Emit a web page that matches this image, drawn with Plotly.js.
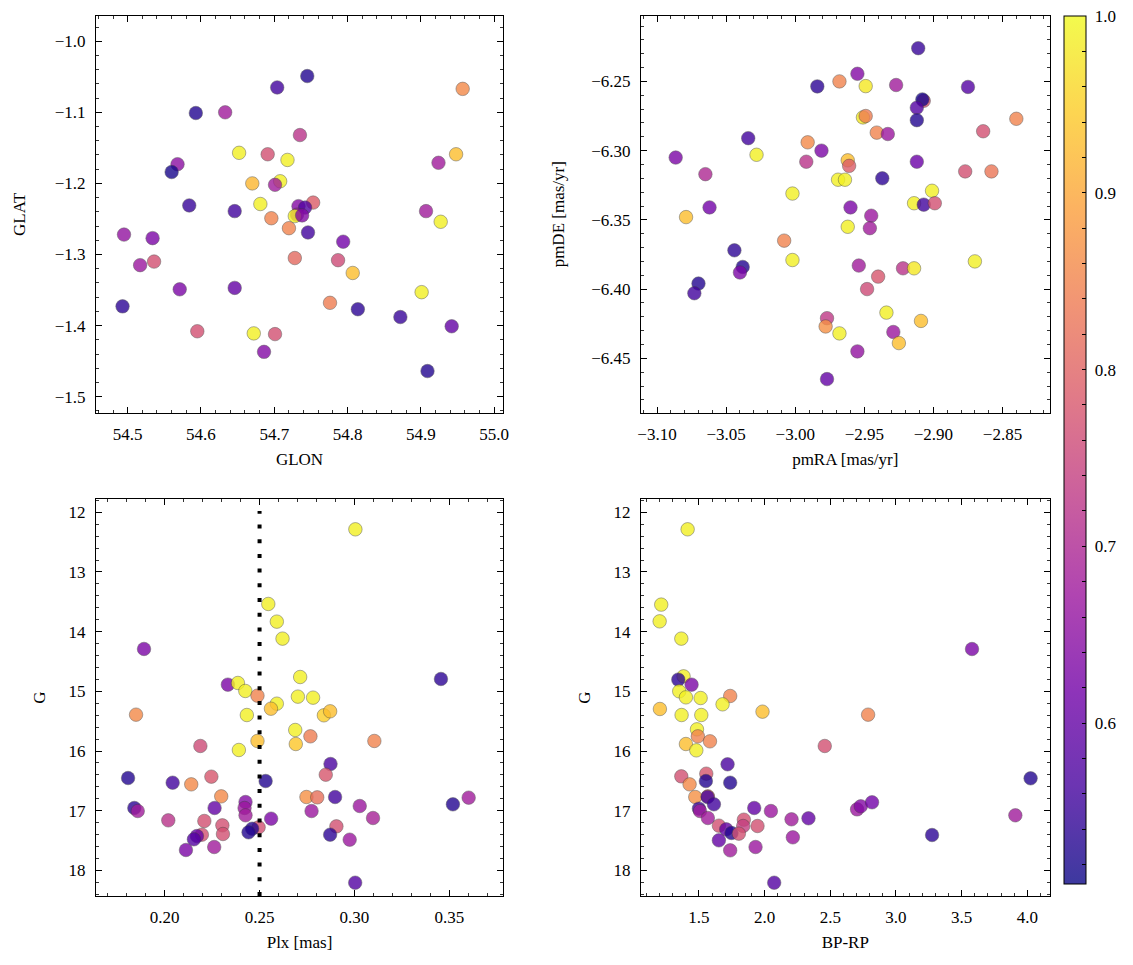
<!DOCTYPE html>
<html><head><meta charset="utf-8">
<script src="https://cdn.plot.ly/plotly-3.0.1.min.js"></script>
<style>html,body{margin:0;padding:0;background:#fff}</style>
</head><body><div id="chart" style="width:1133px;height:965px"></div>
<script>
// ---- Panel 1: position (GLON, GLAT) ----
const glon = [54.745,54.704,54.957,54.593,54.633,54.735,54.652,54.691,54.718,54.948,54.568,54.560,54.924,54.670,54.708,54.701,54.753,54.681,54.584,54.646,54.733,54.742,54.731,54.728,54.738,54.696,54.907,54.927,54.720,54.746,54.495,54.534,54.794,54.517,54.536,54.728,54.787,54.807,54.571,54.646,54.901,54.493,54.776,54.814,54.872,54.942,54.595,54.672,54.701,54.686,54.909];
const glat = [-1.049,-1.065,-1.067,-1.101,-1.100,-1.132,-1.157,-1.159,-1.167,-1.159,-1.173,-1.184,-1.171,-1.200,-1.197,-1.202,-1.227,-1.229,-1.231,-1.239,-1.232,-1.234,-1.244,-1.246,-1.245,-1.249,-1.239,-1.254,-1.263,-1.269,-1.272,-1.277,-1.282,-1.315,-1.310,-1.305,-1.308,-1.326,-1.349,-1.347,-1.353,-1.373,-1.368,-1.377,-1.388,-1.401,-1.408,-1.411,-1.412,-1.437,-1.464];
const probPos = [0.53,0.56,0.86,0.53,0.68,0.72,0.99,0.77,0.99,0.93,0.65,0.52,0.68,0.92,0.99,0.68,0.79,0.99,0.55,0.56,0.64,0.58,0.66,0.99,0.64,0.85,0.68,0.99,0.85,0.56,0.66,0.63,0.62,0.67,0.77,0.81,0.76,0.93,0.63,0.60,0.99,0.54,0.84,0.54,0.55,0.60,0.77,0.99,0.77,0.64,0.53];

// ---- Panel 2: proper motion (pmRA, pmDE) ----
const pmra = [-2.911,-2.955,-2.968,-2.984,-2.949,-2.927,-2.875,-2.907,-2.908,-2.912,-2.912,-2.951,-2.949,-2.840,-2.941,-2.933,-2.864,-3.034,-2.991,-2.981,-3.0865,-3.028,-2.992,-2.962,-2.961,-2.912,-2.877,-2.858,-3.065,-2.937,-2.969,-2.964,-3.002,-2.901,-2.914,-2.907,-2.899,-3.062,-2.960,-3.079,-2.945,-2.946,-2.962,-3.008,-3.044,-3.002,-2.870,-3.038,-3.040,-2.954,-2.922,-2.914,-2.940,-3.070,-3.073,-2.948,-2.934,-2.977,-2.978,-2.909,-2.929,-2.968,-2.925,-2.955,-2.977];
const pmde = [-6.226,-6.2445,-6.250,-6.2536,-6.2534,-6.2526,-6.254,-6.264,-6.263,-6.269,-6.278,-6.276,-6.275,-6.277,-6.287,-6.288,-6.286,-6.291,-6.294,-6.300,-6.305,-6.303,-6.308,-6.307,-6.311,-6.308,-6.315,-6.315,-6.317,-6.320,-6.321,-6.321,-6.331,-6.329,-6.338,-6.339,-6.338,-6.341,-6.341,-6.348,-6.347,-6.356,-6.355,-6.365,-6.372,-6.379,-6.380,-6.384,-6.388,-6.383,-6.385,-6.385,-6.391,-6.396,-6.403,-6.400,-6.417,-6.421,-6.427,-6.423,-6.431,-6.432,-6.439,-6.445,-6.465];
const probPm = [0.55,0.64,0.85,0.54,0.98,0.68,0.58,0.77,0.52,0.58,0.53,0.98,0.84,0.85,0.85,0.67,0.77,0.56,0.86,0.63,0.63,0.99,0.72,0.93,0.79,0.61,0.77,0.83,0.70,0.54,0.99,0.99,0.99,0.99,0.99,0.56,0.77,0.62,0.63,0.93,0.67,0.68,0.99,0.85,0.54,0.99,0.99,0.53,0.63,0.68,0.72,0.98,0.78,0.53,0.56,0.76,0.99,0.73,0.87,0.93,0.67,0.99,0.93,0.66,0.60];

// ---- Panel 3: parallax vs G ----
const plx = [0.3005,0.2546,0.2591,0.2621,0.1891,0.3456,0.2714,0.2333,0.2386,0.2425,0.2489,0.2702,0.2782,0.2591,0.2560,0.1849,0.2433,0.2839,0.2872,0.2688,0.2768,0.3105,0.2489,0.2691,0.2188,0.2391,0.2874,0.2849,0.1807,0.2246,0.2042,0.2532,0.2140,0.2298,0.2747,0.2804,0.2898,0.2426,0.3602,0.3519,0.2263,0.2421,0.3028,0.1840,0.1858,0.2774,0.2426,0.2019,0.3098,0.2561,0.2209,0.2304,0.2495,0.2905,0.2461,0.2442,0.2307,0.2196,0.2170,0.2154,0.2872,0.2975,0.2261,0.2112,0.3004];
const gPlx = [12.285,13.536,13.832,14.117,14.290,14.793,14.760,14.888,14.860,14.994,15.073,15.089,15.106,15.207,15.291,15.391,15.397,15.402,15.335,15.648,15.754,15.832,15.832,15.883,15.916,15.983,16.218,16.397,16.453,16.430,16.531,16.503,16.559,16.760,16.771,16.777,16.771,16.855,16.782,16.894,16.955,16.955,16.922,16.955,17.006,17.006,17.078,17.162,17.123,17.134,17.173,17.246,17.279,17.263,17.302,17.363,17.391,17.402,17.425,17.480,17.402,17.486,17.609,17.659,18.207];
const probPlx = [0.99,0.99,0.99,0.99,0.63,0.54,0.99,0.63,0.99,0.99,0.85,0.99,0.99,0.99,0.93,0.86,0.99,0.95,0.93,0.99,0.84,0.85,0.93,0.94,0.76,0.99,0.57,0.78,0.53,0.78,0.56,0.53,0.86,0.86,0.87,0.82,0.56,0.64,0.68,0.53,0.60,0.67,0.67,0.54,0.68,0.67,0.68,0.72,0.69,0.63,0.77,0.77,0.77,0.77,0.53,0.53,0.77,0.77,0.60,0.58,0.54,0.67,0.68,0.63,0.58];
const plxCut = 0.25;

// ---- Panel 4: colour-magnitude (BP-RP vs G) ----
const bprp = [1.414,1.213,1.201,1.366,3.579,1.383,1.343,1.444,1.350,1.401,1.513,1.738,1.680,1.203,1.368,1.518,1.984,2.788,1.485,1.492,1.584,1.401,1.480,2.458,1.718,1.556,1.366,1.553,1.738,4.025,1.429,1.472,1.568,1.566,1.614,1.500,1.508,1.921,2.048,2.704,2.732,2.818,1.568,2.205,2.334,3.909,1.842,1.652,1.708,1.837,1.946,1.748,1.804,3.275,1.652,2.215,1.738,1.931,2.073];
const gCmd = [12.285,13.547,13.827,14.117,14.291,14.749,14.804,14.888,15.000,15.101,15.112,15.078,15.218,15.296,15.397,15.397,15.341,15.391,15.637,15.754,15.838,15.883,15.989,15.916,16.223,16.380,16.425,16.503,16.531,16.458,16.559,16.771,16.760,16.771,16.894,16.966,17.006,16.955,17.006,16.978,16.927,16.860,17.123,17.145,17.128,17.078,17.151,17.251,17.313,17.257,17.257,17.374,17.385,17.408,17.497,17.447,17.665,17.609,18.207];
const probCmd = [0.99,0.99,0.99,0.99,0.63,0.99,0.54,0.63,0.99,0.99,0.99,0.85,0.99,0.93,0.99,0.99,0.93,0.85,0.99,0.85,0.85,0.93,0.99,0.77,0.57,0.78,0.77,0.53,0.53,0.53,0.86,0.87,0.83,0.56,0.56,0.55,0.68,0.60,0.67,0.67,0.64,0.62,0.68,0.68,0.60,0.68,0.77,0.77,0.60,0.74,0.77,0.53,0.77,0.54,0.60,0.67,0.68,0.67,0.58];

const cmin = 0.509, cmax = 1.0;
const cbTicks = [0.52,0.54,0.56,0.58,0.60,0.62,0.64,0.66,0.68,0.70,0.72,0.74,0.76,0.78,0.80,0.82,0.84,0.86,0.88,0.90,0.92,0.94,0.96,0.98,1.00];

// plasma, and plasma seen through alpha 0.8 on white (for the colour bar)
const plasma = ["#0d0887","#46039f","#7201a8","#9c179e","#bd3786","#d8576b","#ed7953","#fb9f3a","#fdca26","#f0f921"];
function fade(hex){
  const r=parseInt(hex.substr(1,2),16),g=parseInt(hex.substr(3,2),16),b=parseInt(hex.substr(5,2),16);
  const f=c=>Math.round(0.8*c+0.2*255);
  return `rgb(${f(r)},${f(g)},${f(b)})`;
}
const plasmaScale = plasma.map((c,i)=>[i/(plasma.length-1), c]);
const fadedScale = plasma.map((c,i)=>[i/(plasma.length-1), fade(c)]);

const FONT = "Liberation Serif, DejaVu Serif, serif";
const FS = 17;

function mk(x,y,c,xa,ya){
  return {type:'scatter', mode:'markers', x:x, y:y, xaxis:xa, yaxis:ya,
    marker:{color:c, colorscale:plasmaScale, cmin:cmin, cmax:cmax, size:13.5, opacity:0.8,
      line:{color:'#3a3a3a', width:0.5}}, hoverinfo:'x+y', showlegend:false};
}

const traces = [
  mk(glon, glat, probPos, 'x', 'y'),
  mk(pmra, pmde, probPm, 'x2', 'y2'),
  mk(plx, gPlx, probPlx, 'x3', 'y3'),
  mk(bprp, gCmd, probCmd, 'x4', 'y4'),
  {type:'scatter', mode:'markers', x:[glon[0]], y:[glat[0]], xaxis:'x', yaxis:'y', hoverinfo:'skip', showlegend:false,
   marker:{color:[probPos[0]], colorscale:fadedScale, cmin:cmin, cmax:cmax, opacity:0, size:1, showscale:true,
     colorbar:{x:1064/1133, xanchor:'left', xpad:0, y:1-16/965, yanchor:'top', ypad:0,
       len:868/965, lenmode:'fraction', thickness:22, thicknessmode:'pixels',
       outlinewidth:1, outlinecolor:'#000', tickmode:'array', tickvals:cbTicks,
       ticktext:cbTicks.map(v=>(Math.abs(v*10-Math.round(v*10))<1e-6)? '\u00a0'+v.toFixed(1):''),
       ticks:'inside', ticklen:4, tickwidth:1, tickcolor:'#000',
       tickfont:{family:FONT, size:FS, color:'#000'}}}}
];

function ax(domain, range, dtick, minorDtick, fmt, title, standoff, extra){
  return Object.assign({domain:domain, range:range, dtick:dtick, tickformat:fmt,
    showline:true, linecolor:'#000', linewidth:1, mirror:'allticks',
    ticks:'inside', ticklen:6, tickwidth:1, tickcolor:'#000',
    minor:{dtick:minorDtick, ticks:'inside', ticklen:3, tickwidth:0.8, tickcolor:'#000', showgrid:false},
    showgrid:false, zeroline:false, automargin:false, ticklabelstandoff:6,
    tickfont:{family:FONT, size:FS, color:'#000'},
    title:{text:title, font:{family:FONT, size:FS, color:'#000'}, standoff:standoff}}, extra||{});
}

const X1=[96/1133, 503/1133], X2=[641/1133, 1049.5/1133];
const YT=[1-413/965, 1-15.5/965], YB=[1-896/965, 1-499/965];

const layout = {
  width:1133, height:965, margin:{l:0,r:0,t:0,b:0},
  paper_bgcolor:'#fff', plot_bgcolor:'#fff', showlegend:false,
  font:{family:FONT, size:FS, color:'#000'},
  xaxis: ax(X1,[54.4568,55.012],0.1,0.02,'.1f','GLON',9,{anchor:'y', tick0:54.5}),
  yaxis: ax(YT,[-1.523,-0.9638],0.1,0.02,'.1f','GLAT',24,{anchor:'x', tick0:-1.0}),
  xaxis2: ax(X2,[-3.1116,-2.816],0.05,0.01,'.2f','pmRA [mas/yr]',9,{anchor:'y2', tick0:-3.1}),
  yaxis2: ax(YT,[-6.4895,-6.2024],0.05,0.01,'.2f','pmDE [mas/yr]',22,{anchor:'x2', tick0:-6.25}),
  xaxis3: ax(X1,[0.1638,0.3783],0.05,0.01,'.2f','Plx [mas]',9,{anchor:'y3', tick0:0.2}),
  yaxis3: ax(YB,[18.43,11.777],1,0.2,'d','G',18,{anchor:'x3', tick0:12}),
  xaxis4: ax(X2,[1.059,4.169],0.5,0.1,'.1f','BP-RP',9,{anchor:'y4', tick0:1.5}),
  yaxis4: ax(YB,[18.43,11.777],1,0.2,'d','G',18,{anchor:'x4', tick0:12}),
  shapes:[{type:'line', xref:'x3', yref:'y3 domain', x0:plxCut, x1:plxCut, y0:0, y1:0.97,
    line:{color:'#000', width:4, dash:'4px,10.7px'}}]
};

Plotly.newPlot('chart', traces, layout, {displayModeBar:false, staticPlot:true});
</script></body></html>
